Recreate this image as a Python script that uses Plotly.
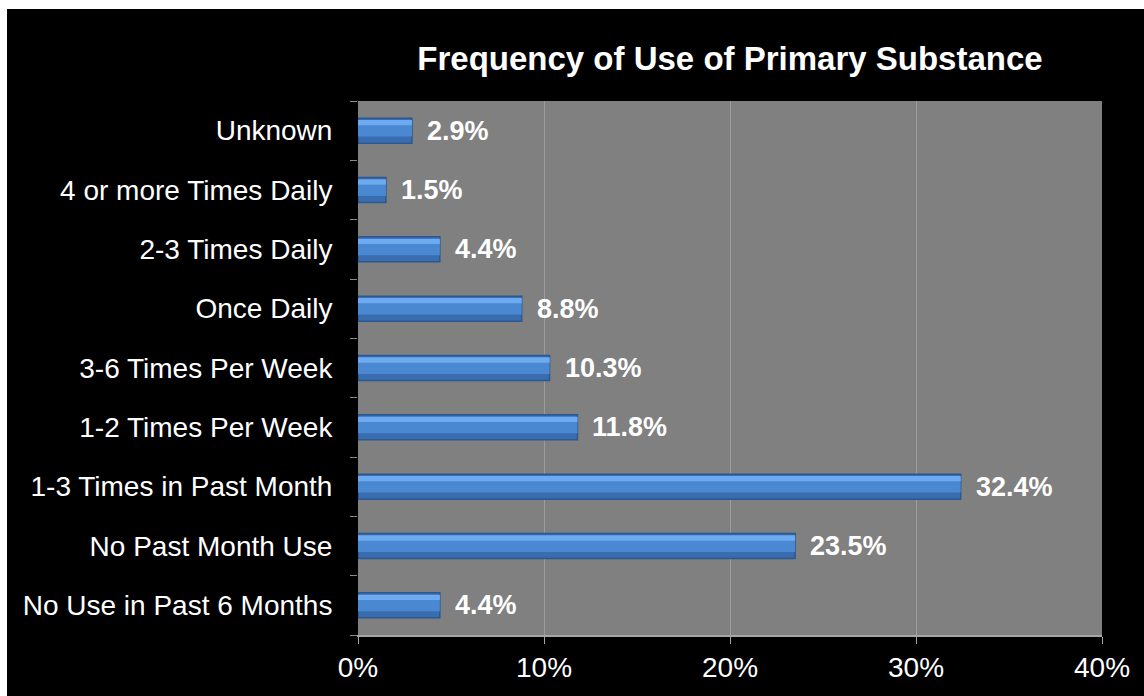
import plotly.graph_objects as go

# Frequency of use categories, listed bottom to top
categories = [
    "No Use in Past 6 Months",
    "No Past Month Use",
    "1-3 Times in Past Month",
    "1-2 Times Per Week",
    "3-6 Times Per Week",
    "Once Daily",
    "2-3 Times Daily",
    "4 or more Times Daily",
    "Unknown",
]
percent = [4.4, 23.5, 32.4, 11.8, 10.3, 8.8, 4.4, 1.5, 2.9]
x_ticks = [0, 10, 20, 30, 40]
x_tick_text = ["0%", "10%", "20%", "30%", "40%"]

W, H = 1144, 696
ML, MR, MT, MB = 358, 42, 101, 61
FONT = "Liberation Sans, Arial, sans-serif"

fig = go.Figure()

# bar body (darker lower face)
fig.add_trace(go.Bar(
    y=categories, x=percent, orientation="h",
    width=0.42,
    marker=dict(color="#3a6cb0", line=dict(color="#2b5890", width=1.5)),
    hoverinfo="skip", showlegend=False,
))
# mid tone of the rounded face
fig.add_trace(go.Bar(
    y=categories, x=percent, orientation="h",
    width=0.27, offset=-0.10,
    marker=dict(color="#4a88d2", line=dict(width=0)),
    hoverinfo="skip", showlegend=False,
))
# bright highlight near the top edge
fig.add_trace(go.Bar(
    y=categories, x=percent, orientation="h",
    width=0.09, offset=0.09,
    marker=dict(color="#6eaaf0", line=dict(width=0)),
    hoverinfo="skip", showlegend=False,
))

# value labels
for c, v in zip(categories, percent):
    fig.add_annotation(
        x=v, y=c, text=f"{v:.1f}%", showarrow=False,
        xanchor="left", yanchor="middle", xshift=13,
        font=dict(family=FONT, size=27, color="white", weight="bold"),
    )

# white frame strip along the top and left edges of the page
pw = W - ML - MR
ph = H - MT - MB
fig.add_shape(type="rect", xref="paper", yref="paper", layer="below",
              x0=-ML / pw, x1=1 + MR / pw, y0=1 + (MT - 9) / ph, y1=1 + MT / ph,
              fillcolor="white", line=dict(width=0))
fig.add_shape(type="rect", xref="paper", yref="paper", layer="below",
              x0=-ML / pw, x1=(7 - ML) / pw, y0=-MB / ph, y1=1 + MT / ph,
              fillcolor="white", line=dict(width=0))

fig.update_layout(
    width=W, height=H,
    margin=dict(l=ML, r=MR, t=MT, b=MB),
    paper_bgcolor="black", plot_bgcolor="#808080",
    barmode="overlay",
    title=dict(text="<b>Frequency of Use of Primary Substance</b>",
               x=0.5, xref="paper", xanchor="center",
               y=1 - 58 / H, yanchor="middle",
               font=dict(family=FONT, size=33, color="white")),
    font=dict(family=FONT, color="white", size=28),
    xaxis=dict(range=[0, 40], tickvals=x_ticks, ticktext=x_tick_text,
               showgrid=True, gridcolor="#9c9c9c", gridwidth=1,
               zeroline=False, showline=True, linecolor="#a6a6a6", linewidth=1.5,
               ticks="outside", ticklen=7, tickcolor="#a6a6a6",
               tickfont=dict(family=FONT, size=28, color="white"), fixedrange=True),
    yaxis=dict(categoryorder="array", categoryarray=categories,
               tickson="boundaries", ticks="outside", ticklen=7, tickcolor="#8a8a8a",
               showline=True, linecolor="black", linewidth=1,
               showgrid=False, zeroline=False,
               tickfont=dict(family=FONT, size=28, color="white"),
               ticklabelstandoff=19, fixedrange=True),
)

fig.write_html("out.html")
